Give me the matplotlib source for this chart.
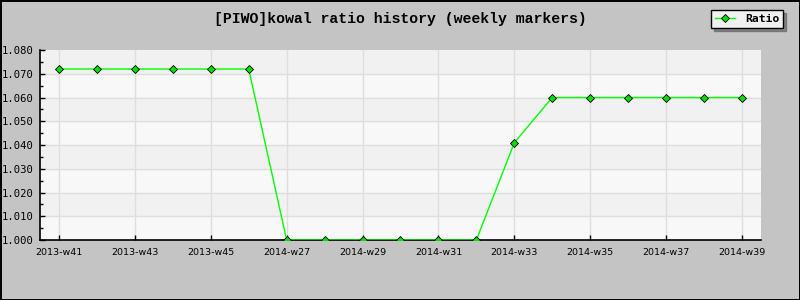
import numpy as np
import matplotlib.pyplot as plt

# weekly categories and ratio values
weeks = ['2013-w41', '2013-w42', '2013-w43', '2013-w44', '2013-w45', '2013-w46',
         '2014-w27', '2014-w28', '2014-w29', '2014-w30', '2014-w31', '2014-w32',
         '2014-w33', '2014-w34', '2014-w35', '2014-w36', '2014-w37', '2014-w38',
         '2014-w39']
ratio = [1.072, 1.072, 1.072, 1.072, 1.072, 1.072,
         1.000, 1.000, 1.000, 1.000, 1.000, 1.000,
         1.041, 1.060, 1.060, 1.060, 1.060, 1.060, 1.060]
y_ticks = [1.000, 1.010, 1.020, 1.030, 1.040, 1.050, 1.060, 1.070, 1.080]

x = np.arange(len(weeks))

fig = plt.figure(figsize=(8, 3), dpi=100, facecolor='#c4c4c4',
                 edgecolor='black', linewidth=2)
ax = fig.add_axes([0.05, 0.2, 0.90125, 0.6333])
ax.set_facecolor('#f8f8f8')

# alternating horizontal bands
for i in range(len(y_ticks) - 1):
    if (len(y_ticks) - 2 - i) % 2 == 0:
        ax.axhspan(y_ticks[i], y_ticks[i + 1], color='#f1f1f1', zorder=0)

ax.set_xlim(-0.5, len(weeks) - 0.5)
ax.set_ylim(1.000, 1.080)

# grid
for yv in y_ticks[1:-1]:
    ax.axhline(yv, color='#dedede', lw=1, zorder=1)
for xv in x[::2]:
    ax.axvline(xv, color='#dedede', lw=1, zorder=1)

ax.plot(x, ratio, color='#00ff00', lw=1, marker='D', markersize=4,
        markerfacecolor='#00e000', markeredgecolor='black', markeredgewidth=0.6,
        label='Ratio', zorder=3)

ax.set_yticks(y_ticks)
ax.set_yticklabels(['%.3f' % v for v in y_ticks], family='DejaVu Sans Mono', fontsize=7.6)
ax.set_yticks(np.arange(1.005, 1.080, 0.01), minor=True)
ax.tick_params(axis='y', which='major', direction='in', length=3.5, width=1, pad=4.5)
ax.tick_params(axis='y', which='minor', direction='in', length=2, width=1)

ax.set_xticks(x[::2])
ax.set_xticklabels(weeks[::2], fontsize=6.8)
ax.tick_params(axis='x', direction='in', length=3.5, width=1, pad=6)

for side in ['top', 'right']:
    ax.spines[side].set_visible(False)
for side in ['left', 'bottom']:
    ax.spines[side].set_linewidth(1.2)

fig.text(0.5, 0.937, '[PIWO]kowal ratio history (weekly markers)', ha='center', va='center',
         family='Liberation Mono', fontweight='bold', fontsize=10.7)

leg = fig.legend(loc='upper right', bbox_to_anchor=(0.979, 0.967), fancybox=False,
                 shadow=True, edgecolor='black', facecolor='#f0f0f0', framealpha=1,
                 prop={'family': 'DejaVu Sans Mono', 'weight': 'bold', 'size': 8.2},
                 handlelength=1.7, borderpad=0.35, handletextpad=0.9, borderaxespad=0)
leg.get_frame().set_linewidth(1)

plt.savefig('out.png', dpi=100, facecolor=fig.get_facecolor(), edgecolor='black')
